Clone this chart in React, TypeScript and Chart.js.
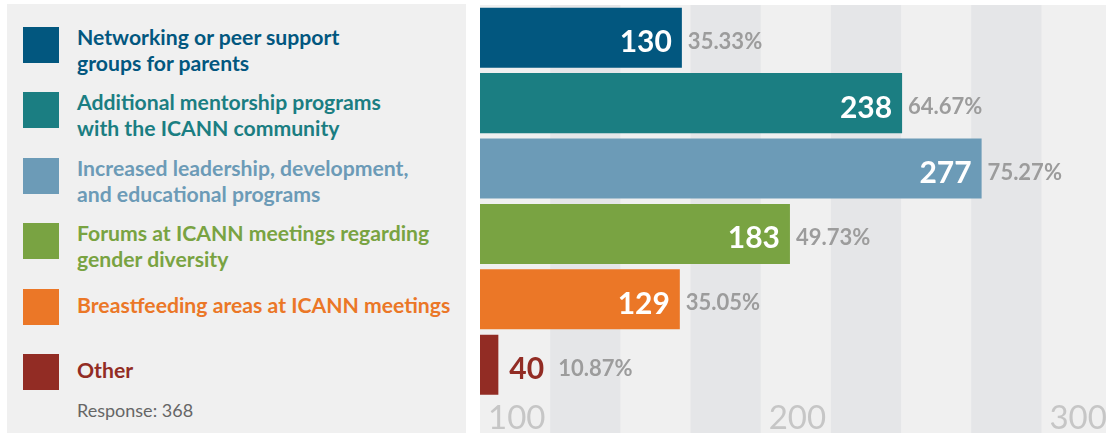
import React, { useEffect, useRef } from 'react';
import { Chart, registerables } from 'chart.js';

Chart.register(...registerables);

// ---- data ----
const categories = [
  'Networking or peer support groups for parents',
  'Additional mentorship programs with the ICANN community',
  'Increased leadership, development, and educational programs',
  'Forums at ICANN meetings regarding gender diversity',
  'Breastfeeding areas at ICANN meetings',
  'Other',
];
const legendLines = [
  ['Networking or peer support', 'groups for parents'],
  ['Additional mentorship programs', 'with the ICANN community'],
  ['Increased leadership, development,', 'and educational programs'],
  ['Forums at ICANN meetings regarding', 'gender diversity'],
  ['Breastfeeding areas at ICANN meetings'],
  ['Other'],
];
const counts = [130, 238, 277, 183, 129, 40];
const percents = [35.33, 64.67, 75.27, 49.73, 35.05, 10.87];
const barColors = ['#02577F', '#1B7E82', '#6C9BB7', '#79A342', '#EB7727', '#922C24'];
const axisTicks = [100, 200, 300];
const responseCount = 368;

// ---- scale settings ----
const axisMin = 100;
const axisMax = 323;
const stripeStep = 25;
const barScaleMin = 31;
const barScaleMax = 338;

const FONT = "Lato, 'Open Sans', 'DejaVu Sans', sans-serif";

const stripePlugin = {
  id: 'stripes',
  beforeDraw(chart: any) {
    const { ctx, chartArea } = chart;
    const sc = chart.scales.x2;
    const top = chartArea.top;
    const bottom = chart.height;
    ctx.save();
    ctx.fillStyle = '#f0f0f0';
    ctx.fillRect(chartArea.left, top, chartArea.right - chartArea.left, bottom - top);
    ctx.fillStyle = '#e5e6e8';
    let k = 0;
    for (let v = sc.min; v < sc.max; v += stripeStep, k++) {
      if (k % 2 === 1) {
        const a = sc.getPixelForValue(v);
        const b = sc.getPixelForValue(Math.min(v + stripeStep, sc.max));
        ctx.fillRect(a, top, b - a, bottom - top);
      }
    }
    ctx.restore();
  },
};

const labelPlugin = {
  id: 'barLabels',
  afterDatasetsDraw(chart: any) {
    const { ctx, chartArea } = chart;
    const meta = chart.getDatasetMeta(0);
    ctx.save();
    meta.data.forEach((bar: any, i: number) => {
      const { x, y, base } = bar.getProps(['x', 'y', 'base'], true);
      const start = Math.max(base, chartArea.left);
      const valText = String(counts[i]);
      ctx.font = `700 30px ${FONT}`;
      const w = ctx.measureText(valText).width;
      let endX = x;
      if (w + 20 <= x - start) {
        ctx.fillStyle = '#ffffff';
        ctx.textAlign = 'right';
        ctx.fillText(valText, x - 10, y + 14.5);
      } else {
        ctx.fillStyle = barColors[i];
        ctx.textAlign = 'left';
        ctx.fillText(valText, x + 11, y + 14.5);
        endX = x + 11 + w + 8;
      }
      ctx.font = `700 22px ${FONT}`;
      ctx.fillStyle = '#9c9c9c';
      ctx.textAlign = 'left';
      ctx.fillText(`${percents[i].toFixed(2)}%`, endX + 6, y + 11);
    });
    ctx.restore();
  },
};

export default function App() {
  const ref = useRef<HTMLCanvasElement | null>(null);

  useEffect(() => {
    if (!ref.current) return;
    const chart = new Chart(ref.current, {
      type: 'bar',
      data: {
        labels: categories,
        datasets: [
          {
            data: counts,
            backgroundColor: barColors,
            borderWidth: 0,
            barPercentage: 0.918,
            categoryPercentage: 1,
            xAxisID: 'x',
            yAxisID: 'y',
          },
        ],
      },
      options: {
        indexAxis: 'y',
        animation: false,
        responsive: false,
        devicePixelRatio: 1,
        layout: { padding: { top: 5, left: 0, right: 0, bottom: 0 } },
        plugins: { legend: { display: false }, tooltip: { enabled: false } },
        scales: {
          x: { type: 'linear', display: false, min: barScaleMin, max: barScaleMax },
          y: { type: 'category', display: false },
          x2: {
            type: 'linear',
            position: 'bottom',
            min: axisMin,
            max: axisMax,
            grid: { display: false, drawTicks: false },
            border: { display: false },
            afterBuildTicks: (scale: any) => {
              scale.ticks = axisTicks.map((v) => ({ value: v }));
            },
            ticks: {
              align: 'start',
              labelOffset: 8,
              padding: 0,
              autoSkip: false,
              maxRotation: 0,
              color: '#c6c6c6',
              font: { family: FONT, size: 33, lineHeight: 1.29 },
            },
          },
        },
      } as any,
      plugins: [stripePlugin, labelPlugin],
    });
    return () => chart.destroy();
  }, []);

  return (
    <div
      style={{
        position: 'absolute',
        left: 0,
        top: 0,
        width: 1106,
        height: 433,
        overflow: 'hidden',
        background: '#ffffff',
        fontFamily: FONT,
      }}
    >
      <div
        style={{
          position: 'absolute',
          left: 7,
          top: 4,
          width: 459,
          height: 429,
          background: '#f0f0f0',
        }}
      >
        {legendLines.map((lines, i) => (
          <div
            key={categories[i]}
            style={{ position: 'absolute', left: 16, top: 23 + i * 65.4, width: 430, height: 36 }}
          >
            <div
              style={{ position: 'absolute', left: 0, top: 0, width: 36, height: 36, background: barColors[i] }}
            />
            <div
              style={{
                position: 'absolute',
                left: 54,
                top: lines.length > 1 ? -3 : 3,
                color: barColors[i],
                fontWeight: 700,
                fontSize: 21.2,
                lineHeight: '26px',
                whiteSpace: 'nowrap',
              }}
            >
              {lines.map((l) => (
                <div key={l}>{l}</div>
              ))}
            </div>
          </div>
        ))}
        <div
          style={{
            position: 'absolute',
            left: 70,
            top: 395,
            fontSize: 18,
            lineHeight: '22px',
            color: '#666666',
            whiteSpace: 'nowrap',
          }}
        >
          Response: {responseCount}
        </div>
      </div>
      <div style={{ position: 'absolute', left: 480, top: 0, width: 626, height: 440 }}>
        <canvas ref={ref} width={626} height={440} style={{ display: 'block', width: 626, height: 440 }} />
      </div>
    </div>
  );
}
